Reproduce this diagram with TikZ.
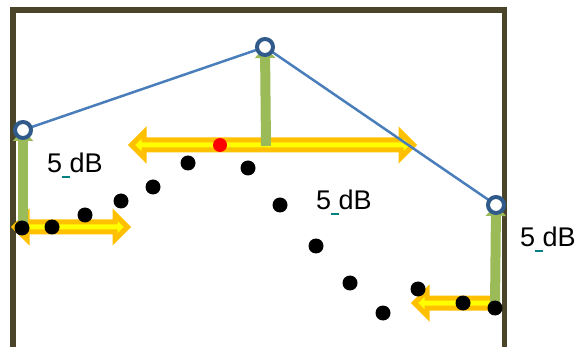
\documentclass[tikz,border=0pt]{standalone}
\usepackage{fontspec}
\setmainfont{Liberation Sans}
\usetikzlibrary{arrows.meta}
\definecolor{framec}{HTML}{4A452A}
\definecolor{bluel}{HTML}{4A7EBB}
\definecolor{ringc}{HTML}{2F5A8A}
\definecolor{greenc}{HTML}{9BBB59}
\definecolor{orangec}{HTML}{FFC000}
\definecolor{yellowc}{HTML}{FFFF00}
\definecolor{ulc}{HTML}{008080}
\tikzset{
  framel/.style={draw=framec,line width=5.5pt},
  yarr/.style={draw=orangec,fill=yellowc,line width=5pt,line join=miter},
  garr/.style={draw=greenc,line width=10pt,-{Triangle[width=20pt,length=11pt]}},
  bline/.style={draw=bluel,line width=2.5pt},
  ring/.style={circle,draw=ringc,fill=white,line width=4pt,minimum size=16pt,inner sep=0pt},
  bdot/.style={circle,fill=black,minimum size=15pt,inner sep=0pt},
  rdot/.style={circle,fill=red,minimum size=14pt,inner sep=0pt},
  lbl/.style={inner sep=0pt,anchor=base west,font=\fontsize{27}{32}\selectfont}
}
\newcommand{\yarrD}[3]{% double yellow arrow: x1, x2, y
  \draw[yarr] ({#1+3.5},{#3}) -- ({#1+16},{#3-12.5}) -- ({#1+16},{#3-5}) -- ({#2-16},{#3-5})
   -- ({#2-16},{#3-12.5}) -- ({#2-3.5},{#3}) -- ({#2-16},{#3+12.5}) -- ({#2-16},{#3+5})
   -- ({#1+16},{#3+5}) -- ({#1+16},{#3+12.5}) -- cycle;}
\newcommand{\yarrL}[3]{% left yellow arrow: x1 (tip), x2 (flat end), y
  \draw[yarr] ({#1+3.5},{#3}) -- ({#1+16},{#3-12.5}) -- ({#1+16},{#3-5}) -- ({#2-2.5},{#3-5})
   -- ({#2-2.5},{#3+5}) -- ({#1+16},{#3+5}) -- ({#1+16},{#3+12.5}) -- cycle;}
\newcommand{\ulbl}{5\rlap{\color{ulc}\rule[-5pt]{7.5pt}{2pt}} dB}
\begin{document}
\begin{tikzpicture}[x=1pt,y=-1pt]
\useasboundingbox (0,0) rectangle (578,347);
% frame
\draw[framel] (13,360) -- (13,10) -- (504.5,10) -- (504.5,360);
% yellow arrows
\yarrD{11}{131}{227}
\yarrD{128}{417}{145}
\yarrL{411}{496}{303}
% anchor points
\coordinate (c1) at (23,130);
\coordinate (c2) at (265,47);
\coordinate (c3) at (496,205);
\coordinate (g1) at (23,228);
\coordinate (g2) at (266,146);
\coordinate (g3) at (495,308);
% green arrows
\draw[garr] (g1) -- (c1);
\draw[garr] (g2) -- (c2);
\draw[garr] (g3) -- (c3);
% blue line
\draw[bline] (c1) -- (c2) -- (c3);
% rings
\node[ring] (r1) at (c1) {};
\node[ring] (r2) at (c2) {};
\node[ring] (r3) at (c3) {};
% dots
\foreach \i/\x/\y in {1/22/228,2/52/227,3/85/215,4/121/201,5/153/187,6/188/163,7/248/168,8/280/205,9/316/246,10/350/283,11/383/313,12/418/289,13/463/303,14/495/308}
  \node[bdot] (d\i) at (\x,\y) {};
\node[rdot] (red) at (220,145) {};
% labels
\node[lbl] (t1) at (47,173) {\ulbl};
\node[lbl] (t2) at (316,210) {\ulbl};
\node[lbl] (t3) at (520,247) {\ulbl};
\end{tikzpicture}
\end{document}
